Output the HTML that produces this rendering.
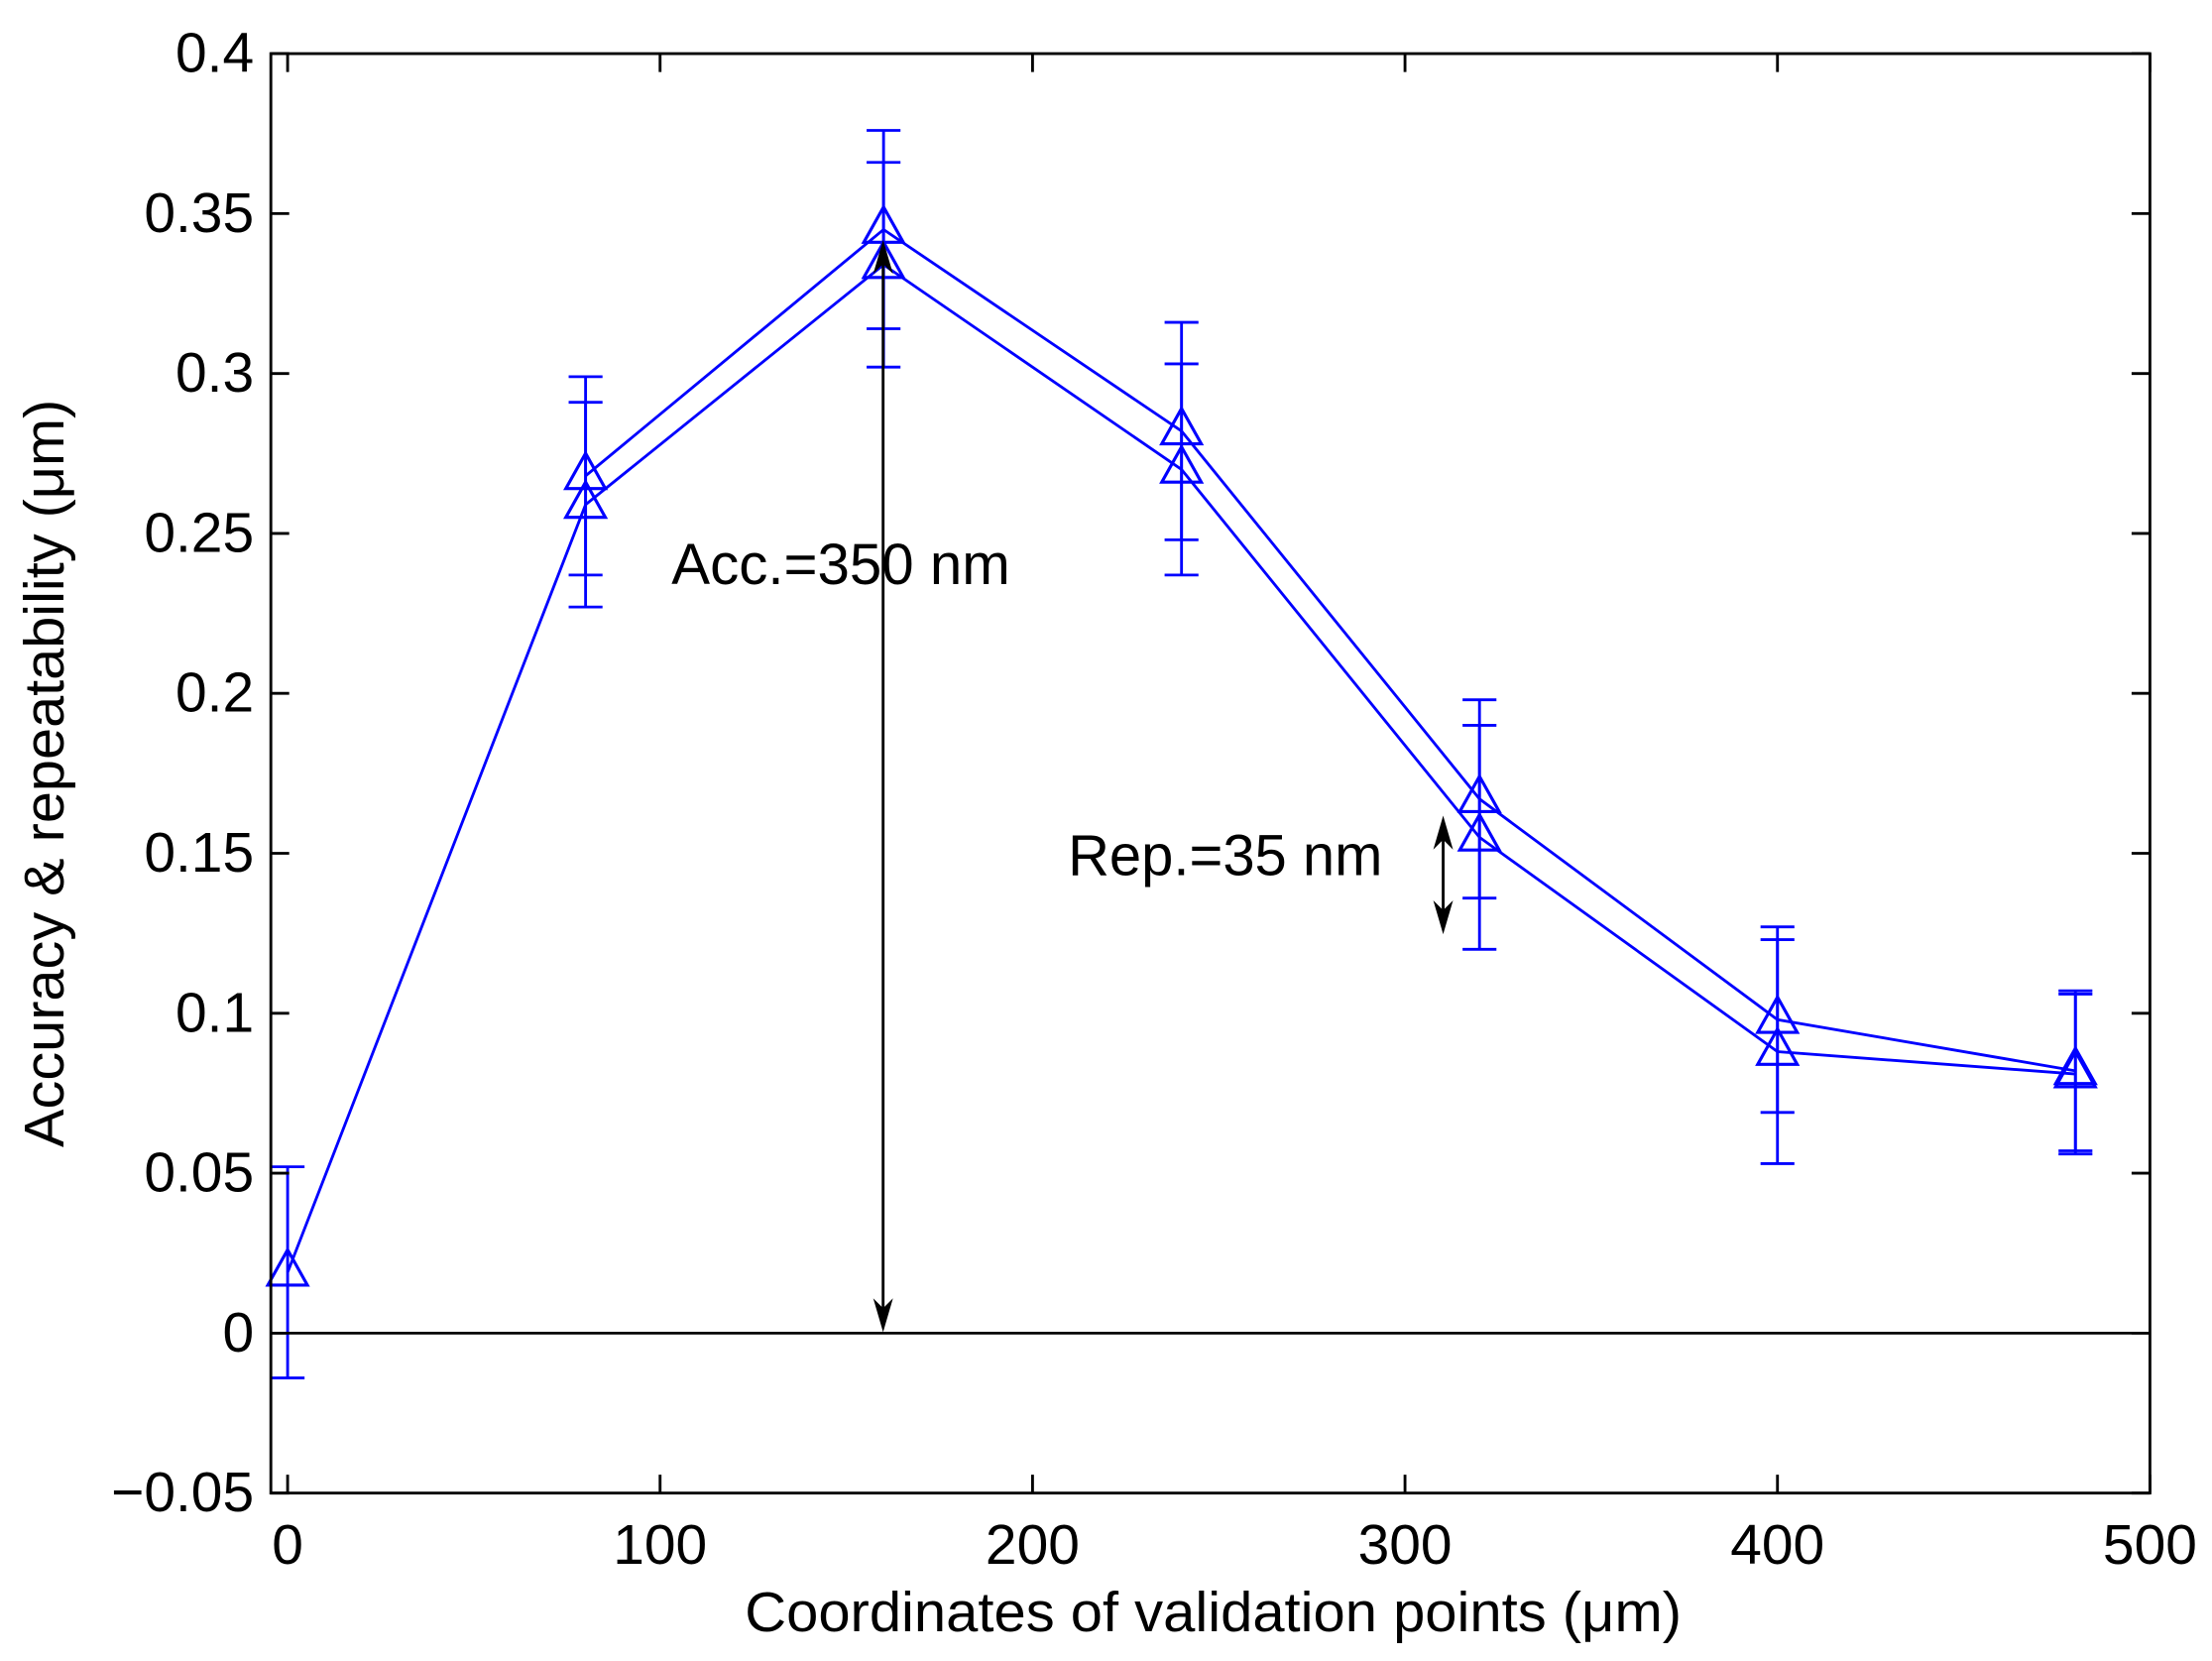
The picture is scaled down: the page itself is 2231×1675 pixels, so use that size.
<!DOCTYPE html>
<html><head><meta charset="utf-8"><style>
html,body{margin:0;padding:0;background:#fff;}
svg{display:block;}
text{font-family:"Liberation Sans",sans-serif;fill:#000;}
</style></head><body>
<svg id="chart" width="2231" height="1675" viewBox="0 0 1568 1177" preserveAspectRatio="none" xmlns="http://www.w3.org/2000/svg">
<rect x="0" y="0" width="1568" height="1177" fill="#fff"/>
<g id="plot"></g>
</svg>
<script>
const xs = [0, 80, 160, 240, 320, 400, 480];
const seriesA = [null, 0.268, 0.345, 0.282, 0.167, 0.098, 0.082];
const seriesB = [0.019, 0.259, 0.334, 0.270, 0.155, 0.088, 0.081];
const errA = [0, 0.031, 0.031, 0.034, 0.031, 0.029, 0.025];
const errB = [0.033, 0.032, 0.032, 0.033, 0.035, 0.035, 0.025];
const xTicks = [0, 100, 200, 300, 400, 500];
const yTicks = [-0.05, 0, 0.05, 0.1, 0.15, 0.2, 0.25, 0.3, 0.35, 0.4];
const yTickLabels = ["\u22120.05","0","0.05","0.1","0.15","0.2","0.25","0.3","0.35","0.4"];

const L=192,R=1524,T=38,B=1058;
const X0=-4.5,X1=500,Y0=-0.05,Y1=0.4;
const sx=v=>L+(v-X0)/(X1-X0)*(R-L);
const sy=v=>B-(v-Y0)/(Y1-Y0)*(B-T);
const NS="http://www.w3.org/2000/svg";
const g=document.getElementById('plot');
function mk(tag,attrs,parent){const e=document.createElementNS(NS,tag);for(const k in attrs)e.setAttribute(k,attrs[k]);(parent||g).appendChild(e);return e;}

let zl=mk('line',{x1:L,x2:R,y1:sy(0),y2:sy(0),stroke:'#000','stroke-width':2});



function drawSeries(vals,errs,name){
  const sg=mk('g',{});
  
  
  const pts=xs.map((x,i)=>vals[i]==null?null:sx(x)+','+sy(vals[i])).filter(p=>p).join(' ');
  const pl=mk('polyline',{points:pts,fill:'none',stroke:'#0000ff','stroke-width':2},sg);
  
  
  xs.forEach((x,i)=>{
    if(vals[i]==null)return;
    const cx=sx(x),cy=sy(vals[i]),hi=sy(vals[i]+errs[i]),lo=sy(vals[i]-errs[i]);
    const eb=mk('path',{d:`M${cx},${hi}V${lo}M${cx-12},${hi}H${cx+12}M${cx-12},${lo}H${cx+12}`,stroke:'#0000ff','stroke-width':2,fill:'none'},sg);
    
    
    const tr=mk('polygon',{points:`${cx},${cy-16} ${cx-14},${cy+9} ${cx+14},${cy+9}`,fill:'none',stroke:'#0000ff','stroke-width':2.2},sg);
    
    
  });
}
drawSeries(seriesB,errB,'series-lower');
drawSeries(seriesA,errA,'series-upper');

function dblArrow(x,y1,y2,name){
  const ag=mk('g',{});
  
  
  mk('line',{x1:x,x2:x,y1:y1+10,y2:y2-10,stroke:'#000','stroke-width':2},ag);
  mk('polygon',{points:`${x},${y1} ${x-7},${y1+24} ${x},${y1+17} ${x+7},${y1+24}`,fill:'#000'},ag);
  mk('polygon',{points:`${x},${y2} ${x-7},${y2-24} ${x},${y2-17} ${x+7},${y2-24}`,fill:'#000'},ag);
}
dblArrow(626,170,944,'accuracy-arrow');
dblArrow(1023,578,662,'repeatability-arrow');

let t=mk('text',{x:476,y:414,'font-size':41,textLength:240,lengthAdjust:'spacingAndGlyphs'});t.textContent='Acc.=350 nm';

t=mk('text',{x:757,y:620,'font-size':41,textLength:223,lengthAdjust:'spacingAndGlyphs'});t.textContent='Rep.=35 nm';


let box=mk('rect',{x:L,y:T,width:R-L,height:B-T,fill:'none',stroke:'#000','stroke-width':2});


yTicks.forEach((v,i)=>{
  const y=sy(v);
  mk('path',{d:`M${L},${y}h13M${R},${y}h-13`,stroke:'#000','stroke-width':2});
  const tx=mk('text',{x:L-12,y:y+13,'font-size':40,'text-anchor':'end'});
  tx.textContent=yTickLabels[i];
  
  
});
xTicks.forEach(v=>{
  const x=sx(v);
  mk('path',{d:`M${x},${B}v-13M${x},${T}v13`,stroke:'#000','stroke-width':2});
  const tx=mk('text',{x:x,y:B+50,'font-size':40,'text-anchor':'middle'});
  tx.textContent=v;
  
  
});
t=mk('text',{x:860,y:1156,'font-size':40,'text-anchor':'middle',textLength:664,lengthAdjust:'spacingAndGlyphs'});t.textContent='Coordinates of validation points (\u03bcm)';

t=mk('text',{x:0,y:0,'font-size':40,'text-anchor':'middle',textLength:530,lengthAdjust:'spacingAndGlyphs',transform:'translate(45,548) rotate(-90)'});t.textContent='Accuracy & repeatability (\u03bcm)';

</script>
</body></html>
